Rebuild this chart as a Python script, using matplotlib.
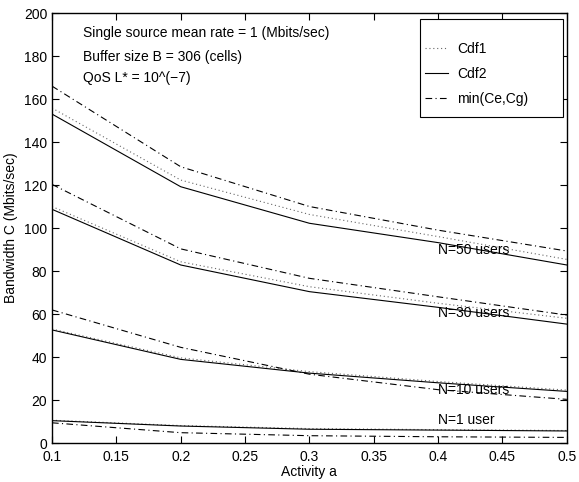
import numpy as np
import matplotlib.pyplot as plt
from matplotlib.patches import Rectangle

plt.rcParams['font.family'] = ['Liberation Sans', 'DejaVu Sans']
plt.rcParams['font.size'] = 10

# activity values and bandwidth curves for each population size
activity = [0.1, 0.2, 0.3, 0.4, 0.5]

cdf1_n50 = [155.8, 122.3, 106.3, 96.0, 85.4]
cdf2_n50 = [153.0, 119.2, 102.2, 93.2, 82.8]
min_n50 = [166.0, 128.5, 110.0, 99.0, 89.3]

cdf1_n30 = [110.0, 84.3, 72.7, 65.0, 58.0]
cdf2_n30 = [108.7, 82.8, 70.4, 63.1, 55.3]
min_n30 = [120.3, 90.3, 76.6, 68.0, 59.5]

cdf1_n10 = [53.0, 39.6, 33.2, 28.6, 24.6]
cdf2_n10 = [52.6, 38.9, 32.5, 28.0, 24.0]
min_n10 = [61.9, 44.5, 32.0, 24.8, 20.3]

cdf1_n1 = [10.6, 8.1, 6.7, 6.2, 5.8]
cdf2_n1 = [10.4, 7.9, 6.4, 6.0, 5.6]
min_n1 = [9.4, 4.8, 3.4, 2.9, 2.6]

xticks = [0.1, 0.15, 0.2, 0.25, 0.3, 0.35, 0.4, 0.45, 0.5]
xticklabels = ['0.1', '0.15', '0.2', '0.25', '0.3', '0.35', '0.4', '0.45', '0.5']
yticks = [0, 20, 40, 60, 80, 100, 120, 140, 160, 180, 200]

curve_labels = ['N=50 users', 'N=30 users', 'N=10 users', 'N=1 user']
curve_label_y = [90, 60.5, 24.7, 10.5]

dotted = (0, (1, 2.5))
dashdot = (0, (6, 3, 1, 3))

fig = plt.figure(figsize=(5.79, 4.82), dpi=100)
ax = fig.add_axes([0.0898, 0.0809, 0.8892, 0.8921])

groups = [(cdf1_n50, cdf2_n50, min_n50), (cdf1_n30, cdf2_n30, min_n30),
          (cdf1_n10, cdf2_n10, min_n10), (cdf1_n1, cdf2_n1, min_n1)]
for i, (c1, c2, cm) in enumerate(groups):
    ax.plot(activity, c1, color='0.4', linestyle=dotted, linewidth=0.8,
            label='Cdf1' if i == 0 else None)
    ax.plot(activity, c2, color='black', linestyle='-', linewidth=0.8,
            label='Cdf2' if i == 0 else None)
    ax.plot(activity, cm, color='black', linestyle=dashdot, linewidth=0.8,
            label='min(Ce,Cg)' if i == 0 else None)

for txt, yy in zip(curve_labels, curve_label_y):
    ax.text(0.4, yy, txt, ha='left', va='center', fontsize=10)

ax.text(0.1238, 190.7, 'Single source mean rate = 1 (Mbits/sec)', va='center')
ax.text(0.1238, 179.7, 'Buffer size B = 306 (cells)', va='center')
ax.text(0.1238, 169.8, 'QoS L* = 10^(\u22127)', va='center')

ax.set_xlim(0.1, 0.5)
ax.set_ylim(0, 200)
ax.set_xticks(xticks)
ax.set_xticklabels(xticklabels)
ax.set_yticks(yticks)
ax.tick_params(direction='in', top=True, right=True, length=5, width=0.8, labelsize=10)
ax.tick_params(axis='x', pad=5)
for s in ax.spines.values():
    s.set_linewidth(1.0)
ax.set_xlabel('Activity a', fontsize=10, labelpad=1)
ax.set_ylabel('Bandwidth C (Mbits/sec)', fontsize=10, labelpad=4)

# legend with a wide square frame
ax.add_patch(Rectangle((0.7146, 0.758), 0.2771, 0.228, transform=ax.transAxes,
                       facecolor='white', edgecolor='black', linewidth=0.8, zorder=4))
leg = ax.legend(loc='upper left', bbox_to_anchor=(0.7243, 0.932), frameon=False,
                borderpad=0, borderaxespad=0, handlelength=1.65, handletextpad=0.65,
                labelspacing=0.79, fontsize=10)
leg.set_zorder(5)

fig.savefig('out.png', dpi=100)
